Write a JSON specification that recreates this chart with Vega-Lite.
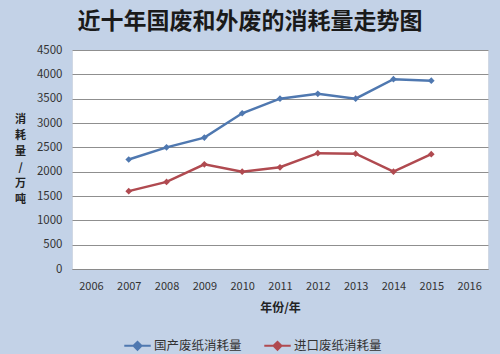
{
  "$schema": "https://vega.github.io/schema/vega-lite/v6.json",
  "width": 416,
  "height": 219,
  "autosize": {"type": "none"},
  "padding": {"left": 72, "top": 50, "right": 12, "bottom": 85},
  "background": "#c3d2e7",
  "title": {
    "text": "近十年国废和外废的消耗量走势图",
    "font": "Noto Sans CJK SC",
    "fontSize": 23,
    "fontWeight": "bold",
    "color": "#1a1a1a",
    "anchor": "middle",
    "dx": -30,
    "offset": 10
  },
  "config": {
    "view": {"fill": "white", "stroke": "#d0d8e4"},
    "font": "Noto Sans CJK SC",
    "axis": {"labelFont": "Noto Sans CJK SC", "titleFont": "Noto Sans CJK SC"}
  },
  "data": {
    "values": [
      {"year": "2007", "series": "国产废纸消耗量", "value": 2250},
      {"year": "2008", "series": "国产废纸消耗量", "value": 2500},
      {"year": "2009", "series": "国产废纸消耗量", "value": 2700},
      {"year": "2010", "series": "国产废纸消耗量", "value": 3200},
      {"year": "2011", "series": "国产废纸消耗量", "value": 3500},
      {"year": "2012", "series": "国产废纸消耗量", "value": 3600},
      {"year": "2013", "series": "国产废纸消耗量", "value": 3500},
      {"year": "2014", "series": "国产废纸消耗量", "value": 3900},
      {"year": "2015", "series": "国产废纸消耗量", "value": 3870},
      {"year": "2007", "series": "进口废纸消耗量", "value": 1600},
      {"year": "2008", "series": "进口废纸消耗量", "value": 1790},
      {"year": "2009", "series": "进口废纸消耗量", "value": 2150},
      {"year": "2010", "series": "进口废纸消耗量", "value": 2000},
      {"year": "2011", "series": "进口废纸消耗量", "value": 2090},
      {"year": "2012", "series": "进口废纸消耗量", "value": 2380},
      {"year": "2013", "series": "进口废纸消耗量", "value": 2370},
      {"year": "2014", "series": "进口废纸消耗量", "value": 2000},
      {"year": "2015", "series": "进口废纸消耗量", "value": 2360}
    ]
  },
  "mark": {"type": "line", "strokeWidth": 2.5, "point": {"shape": "diamond", "size": 45, "filled": true}},
  "encoding": {
    "x": {
      "field": "year",
      "type": "ordinal",
      "scale": {"type": "point", "domain": ["2006","2007","2008","2009","2010","2011","2012","2013","2014","2015","2016"], "padding": 0.5},
      "axis": {
        "title": "年份/年",
        "titleFontSize": 12,
        "titleFontWeight": "bold",
        "titleColor": "#222",
        "titlePadding": 11,
        "labelAngle": 0,
        "labelFontSize": 11,
        "labelColor": "#333",
        "labelPadding": 11,
        "ticks": false,
        "domainColor": "#8a8a8a",
        "grid": false
      }
    },
    "y": {
      "field": "value",
      "type": "quantitative",
      "scale": {"domain": [0, 4500]},
      "axis": {
        "values": [0,500,1000,1500,2000,2500,3000,3500,4000,4500],
        "format": "d",
        "title": ["消","耗","量","/","万","吨"],
        "titleAngle": 0,
        "titleFontSize": 11,
        "titleFontWeight": "bold",
        "titleLineHeight": 16,
        "titleColor": "#222",
        "titleBaseline": "top",
        "titleAlign": "center",
        "titleX": -52,
        "titleY": 63,
        "labelFontSize": 11.5,
        "labelColor": "#333",
        "labelPadding": 10,
        "ticks": false,
        "domain": false,
        "gridColor": "#8f8f8f",
        "gridWidth": 1
      }
    },
    "color": {
      "field": "series",
      "type": "nominal",
      "scale": {"domain": ["国产废纸消耗量", "进口废纸消耗量"], "range": ["#4f78b0", "#b04a50"]},
      "legend": {
        "title": null,
        "orient": "none",
        "direction": "horizontal",
        "legendX": 51,
        "legendY": 281,
        "symbolType": "M-1,0H1M-0.3,0L0,-0.3L0.3,0L0,0.3Z",
        "symbolSize": 700,
        "symbolStrokeWidth": 2,
        "labelFontSize": 12.5,
        "labelColor": "#333",
        "columnPadding": 18,
        "labelOffset": 2
      }
    }
  }
}
